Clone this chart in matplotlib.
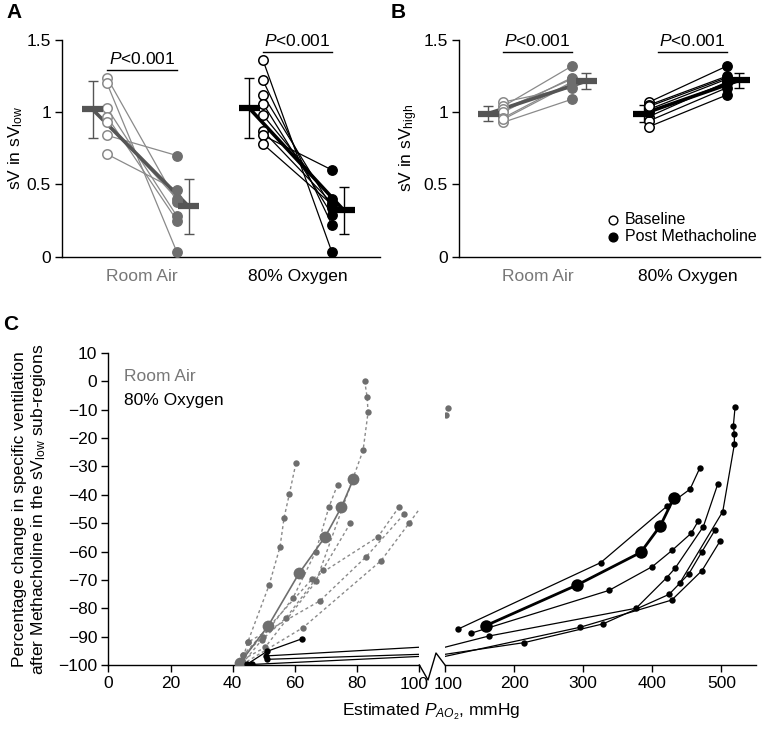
import matplotlib
matplotlib.use("Agg")
import matplotlib.pyplot as plt
import numpy as np

plt.rcParams['font.family'] = ['Liberation Sans', 'DejaVu Sans']
plt.rcParams['mathtext.fontset'] = 'custom'
plt.rcParams['mathtext.rm'] = 'Liberation Sans'
plt.rcParams['mathtext.it'] = 'Liberation Sans:italic'
plt.rcParams['axes.linewidth'] = 1.0

# ---------------- data: panel A (sV in sV_low) ----------------
groups = ["Room Air", "80% Oxygen"]
A_ra_base = [1.24, 1.20, 1.03, 0.97, 0.93, 0.84, 0.71]
A_ra_post = [0.38, 0.03, 0.28, 0.25, 0.40, 0.70, 0.46]
A_ox_base = [1.36, 1.22, 1.12, 1.06, 0.98, 0.87, 0.84, 0.78]
A_ox_post = [0.03, 0.22, 0.34, 0.29, 0.40, 0.37, 0.60, 0.36]
A_mean = {"ra": (1.02, 0.35), "ox": (1.03, 0.32)}
A_sd = {"ra": (0.195, 0.19), "ox": (0.205, 0.16)}

# ---------------- data: panel B (sV in sV_high) ----------------
B_ra_base = [1.07, 1.04, 1.02, 1.00, 0.96, 0.93, 0.95]
B_ra_post = [1.17, 1.32, 1.23, 1.24, 1.21, 1.09, 1.20]
B_ox_base = [1.07, 1.05, 1.02, 0.97, 0.94, 0.90, 1.00, 1.04]
B_ox_post = [1.32, 1.25, 1.23, 1.21, 1.17, 1.12, 1.20, 1.24]
B_mean = {"ra": (0.99, 1.215), "ox": (0.99, 1.22)}
B_sd = {"ra": (0.05, 0.055), "ox": (0.06, 0.055)}

p_text = "$P$<0.001"

# ---------------- data: panel C ----------------
left_xticks = [0, 20, 40, 60, 80, 100]
right_xticks = [100, 200, 300, 400, 500]
c_yticks = list(range(-100, 11, 10))

# Room Air subjects (PAO2 mmHg, % change)
ra_subjects = [
    ([60.3, 58.2, 56.5, 55.2, 51.7, 44.8, 42.7], [-28.9, -39.7, -48.1, -58.3, -71.8, -92.0, -100.0]),
    ([82.4, 83.2, 83.5, 81.9, 66.8, 50.4, 43.0], [0.2, -5.6, -10.9, -24.3, -70.5, -93.8, -98.2]),
    ([73.7, 70.9, 66.7, 59.3, 49.6, 43.4], [-36.4, -44.4, -60.0, -76.5, -90.2, -96.5]),
    ([77.8, 68.9, 57.2, 49.3, 42.7], [-50.0, -66.5, -83.3, -91.2, -100.0]),
    ([93.5, 86.7, 65.5, 43.4], [-44.2, -54.8, -69.7, -96.5]),
    ([95.0, 82.9, 68.0, 44.8], [-46.9, -61.8, -77.4, -92.0]),
    ([104.0, 96.7, 87.7, 62.6, 42.7], [-39.0, -50.0, -63.2, -86.8, -100.0]),
]
ra_mean_x = [78.8, 74.9, 69.7, 61.3, 51.4, 42.3]
ra_mean_y = [-34.4, -44.4, -54.8, -67.7, -86.2, -99.3]
ra_extra_x = [101.0, 103.9]
ra_extra_y = [-11.8, -9.5]

# 80% Oxygen subjects
ox_subjects = [
    ([44.5, 51.0, 62.4], [-99.8, -95.2, -90.7]),
    ([118.4, 325.3, 421.7, 454.6, 468.6], [-87.4, -63.9, -43.9, -38.0, -30.6]),
    ([137.6, 337.3, 400.0, 428.5, 456.0, 466.6], [-88.8, -73.7, -65.3, -59.6, -53.6, -49.2]),
    ([50.7, 163.2, 376.4, 420.8, 432.9, 473.8, 494.7], [-96.8, -89.8, -80.0, -69.2, -65.9, -51.2, -36.2]),
    ([51.0, 214.8, 328.7, 424.2, 452.7, 471.9, 490.7], [-98.0, -92.1, -85.5, -75.1, -67.9, -60.0, -52.4]),
    ([46.3, 295.4, 428.1, 471.9, 498.0], [-99.8, -86.7, -77.1, -66.7, -56.3]),
    ([440.0, 501.9, 518.7, 518.7, 517.2, 519.7], [-71.0, -45.9, -22.2, -18.5, -15.7, -9.1]),
]
ox_mean_x = [159.3, 291.0, 383.2, 411.6, 431.4]
ox_mean_y = [-86.1, -71.8, -60.3, -50.9, -41.0]

# ---------------- figure ----------------
W, H = 762, 730
fig = plt.figure(figsize=(W / 100, H / 100), dpi=100)
FS = 12.5

def fax(l, t, r, b):
    return [l / W, 1 - b / H, (r - l) / W, (b - t) / H]

GRAY_L = "#8a8a8a"
GRAY_M = "#6e6e6e"
GRAY_D = "#555555"

def style_ab(ax, width):
    ax.set_xlim(0, width)
    ax.set_ylim(0, 1.5)
    ax.spines['top'].set_visible(False)
    ax.spines['right'].set_visible(False)
    ax.set_xticks([])
    ax.set_yticks([0, 0.5, 1, 1.5])
    ax.set_yticklabels(["0", "0.5", "1", "1.5"])
    ax.tick_params(axis='y', direction='out', length=5, width=1, labelsize=FS, pad=3)
    ax.patch.set_visible(False)

def draw_group(ax, xb, xp, cb, cp, base, post, mean, sd, line_c, mk_c, mean_c, open_edge):
    for b, p in zip(base, post):
        ax.plot([xb, xp], [b, p], color=line_c, lw=0.9, zorder=2)
    ax.plot([cb, cp], [mean[0], mean[1]], color=mean_c, lw=2.6, zorder=3, solid_capstyle='butt')
    ax.plot(np.full(len(base), xb), base, 'o', ms=6.8, mfc='white', mec=open_edge, mew=1.1, zorder=4)
    ax.plot(np.full(len(post), xp), post, 'o', ms=6.8, mfc=mk_c, mec=mk_c, zorder=4)
    for c, m, s in [(cb, mean[0], sd[0]), (cp, mean[1], sd[1])]:
        ax.errorbar(c, m, yerr=s, color=mean_c, lw=1.0, capsize=3.6, capthick=1.0, zorder=3)
        ax.plot([c - 10.5, c + 10.5], [m, m], color=mean_c, lw=4.5, solid_capstyle='butt', zorder=5)

def p_bar(ax, x0, x1, y):
    ax.plot([x0, x1], [y, y], color='black', lw=1.0)
    ax.text((x0 + x1) / 2, y + 0.025, p_text, ha='center', va='bottom', fontsize=FS)

# Panel A
axA = fig.add_axes(fax(62, 40, 380, 256.7))
style_ab(axA, 318)
draw_group(axA, 45, 115, 30.5, 126.5, A_ra_base, A_ra_post, A_mean["ra"], A_sd["ra"],
           GRAY_L, GRAY_M, GRAY_D, GRAY_L)
draw_group(axA, 201, 270, 187, 282, A_ox_base, A_ox_post, A_mean["ox"], A_sd["ox"],
           'black', 'black', 'black', 'black')
p_bar(axA, 45, 115, 1.29)
p_bar(axA, 201, 270, 1.415)
axA.text(80, -0.09, groups[0], transform=axA.get_xaxis_transform(), ha='center', va='center',
         fontsize=FS, color='#777777')
axA.text(235.5, -0.09, groups[1], transform=axA.get_xaxis_transform(), ha='center', va='center',
         fontsize=FS, color='black')
fig.text(16 / W, 1 - 148 / H, r"sV in sV$_{\mathrm{low}}$", rotation=90, ha='center', va='center', fontsize=FS)
fig.text(14 / W, 1 - 13 / H, "A", fontsize=15, fontweight='bold', ha='center', va='center')

# Panel B
axB = fig.add_axes(fax(459, 40, 760, 256.7))
style_ab(axB, 301)
draw_group(axB, 44, 113, 29, 127, B_ra_base, B_ra_post, B_mean["ra"], B_sd["ra"],
           GRAY_L, GRAY_M, GRAY_D, GRAY_L)
draw_group(axB, 190, 268, 184.5, 280, B_ox_base, B_ox_post, B_mean["ox"], B_sd["ox"],
           'black', 'black', 'black', 'black')
p_bar(axB, 44, 113, 1.415)
p_bar(axB, 199, 268, 1.415)
axB.text(78.5, -0.09, groups[0], transform=axB.get_xaxis_transform(), ha='center', va='center',
         fontsize=FS, color='#777777')
axB.text(229, -0.09, groups[1], transform=axB.get_xaxis_transform(), ha='center', va='center',
         fontsize=FS, color='black')
fig.text(409 / W, 1 - 148 / H, r"sV in sV$_{\mathrm{high}}$", rotation=90, ha='center', va='center', fontsize=FS)
fig.text(398 / W, 1 - 13 / H, "B", fontsize=15, fontweight='bold', ha='center', va='center')
# legend
axB.plot([0.513], [0.170], 'o', ms=6.3, mfc='white', mec='black', mew=1.0, transform=axB.transAxes, clip_on=False)
axB.plot([0.513], [0.091], 'o', ms=6.3, mfc='black', mec='black', transform=axB.transAxes, clip_on=False)
axB.text(0.552, 0.170, "Baseline", transform=axB.transAxes, va='center', ha='left', fontsize=11.5)
axB.text(0.552, 0.091, "Post Methacholine", transform=axB.transAxes, va='center', ha='left', fontsize=11.5)

# Panel C
axL = fig.add_axes(fax(108.3, 353, 419.4, 665))
axR = fig.add_axes(fax(445, 353, 756, 665))
for ax in (axL, axR):
    ax.set_ylim(-100, 10)
    ax.spines['top'].set_visible(False)
    ax.spines['right'].set_visible(False)
    ax.patch.set_visible(False)
    ax.tick_params(direction='out', length=5, width=1, labelsize=FS, pad=3)
axL.set_xlim(0, 100)
axR.set_xlim(100, 550)
axL.set_xticks(left_xticks)
axL.set_xticklabels([str(v) for v in left_xticks[:-1]] + [""])
axL.set_yticks(c_yticks)
axL.set_yticklabels([("\u2212%d" % -v) if v < 0 else str(v) for v in c_yticks])
axR.set_xticks(right_xticks)
axR.set_xticklabels([""] + [str(v) for v in right_xticks[1:]])
axR.spines['left'].set_visible(False)
axR.set_yticks([])
# the two "100" labels either side of the axis break, nudged apart
axL.annotate(str(left_xticks[-1]), xy=(left_xticks[-1], 0), xycoords=('data', 'axes fraction'),
             xytext=(-3.6, -8.5), textcoords='offset points', ha='center', va='top', fontsize=FS)
axR.annotate(str(right_xticks[0]), xy=(right_xticks[0], 0), xycoords=('data', 'axes fraction'),
             xytext=(2.2, -8.5), textcoords='offset points', ha='center', va='top', fontsize=FS)

dotted = (0, (2.2, 2.0))
for xs, ys in ra_subjects:
    axL.plot(xs, ys, color=GRAY_L, lw=1.0, ls=dotted, zorder=2)
    axL.plot(xs, ys, 'o', ms=4.6, color=GRAY_M, mec='none', zorder=3)
axL.plot(ra_mean_x, ra_mean_y, color=GRAY_M, lw=1.2, zorder=3)
axL.plot(ra_mean_x, ra_mean_y, 'o', ms=8.5, color=GRAY_M, mec='none', zorder=4)
axR.plot(ra_extra_x, ra_extra_y, 'o', ms=4.6, color=GRAY_M, mec='none', zorder=3)

for ax in (axL, axR):
    for xs, ys in ox_subjects:
        ax.plot(xs, ys, color='black', lw=0.9, zorder=5)
        ax.plot(xs, ys, 'o', ms=4.6, color='black', mec='none', zorder=6)
    ax.plot(ox_mean_x, ox_mean_y, color='black', lw=2.0, zorder=6)
    ax.plot(ox_mean_x, ox_mean_y, 'o', ms=9, color='black', mec='none', zorder=7)

# axis break zigzag
zz_x = [419.4, 428, 436, 445]
zz_y = [665, 680, 653, 665]
fig.add_artist(plt.Line2D([x / W for x in zz_x], [1 - y / H for y in zz_y], color='black', lw=1.0,
                          transform=fig.transFigure))

axL.text(0.05, 0.925, "Room Air", transform=axL.transAxes, color='#777777', fontsize=FS, va='center')
axL.text(0.05, 0.848, "80% Oxygen", transform=axL.transAxes, color='black', fontsize=FS, va='center')

fig.text(431 / W, 1 - 712 / H, r"Estimated $P_{AO_2}$, mmHg", ha='center', va='center', fontsize=FS)
fig.text(30 / W, 1 - 509 / H,
         "Percentage change in specific ventilation\nafter Methacholine in the sV$_{\\mathrm{low}}$ sub-regions",
         rotation=90, ha='center', va='center', fontsize=FS, linespacing=1.15)
fig.text(11 / W, 1 - 325 / H, "C", fontsize=15, fontweight='bold', ha='center', va='center')

fig.savefig("out.png", dpi=100)
